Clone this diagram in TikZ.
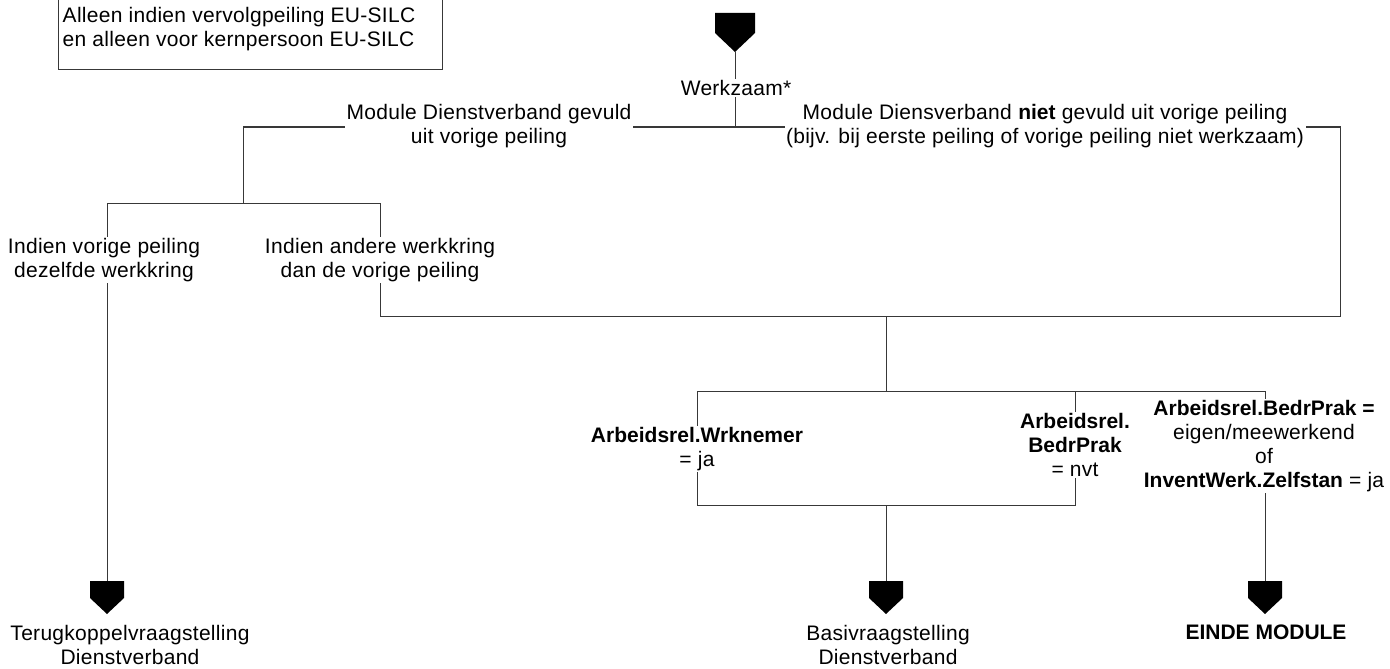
\documentclass[tikz,border=0pt]{standalone}
\usepackage{fontspec}
\setmainfont[LetterSpace=1.4,BoldFeatures={LetterSpace=0}]{Liberation Sans}
\usetikzlibrary{backgrounds}
\begin{document}
\begin{tikzpicture}[x=1bp,y=-1bp,
  txt/.style={font=\fontsize{21bp}{24bp}\selectfont, align=center, inner sep=1.5bp, fill=white},
  ln/.style={line width=1bp, draw=black!78},
  bigarrow/.pic={\fill (-20,0) -- (20,0) -- (20,20) -- (0,39) -- (-20,20) -- cycle;},
  smallarrow/.pic={\fill (-17,0) -- (17,0) -- (17,17) -- (0,33) -- (-17,17) -- cycle;}]
\useasboundingbox (0,0) rectangle (1390,669);
\clip (0,0) rectangle (1390,669);

% note box
\draw[ln] (58,-10) rectangle (442,70);
\node[txt, anchor=west, align=left] (note) at (61,29.5) {Alleen indien vervolgpeiling EU-SILC\\en alleen voor kernpersoon EU-SILC};

% start arrow
\pic at (735,13) {bigarrow};
\coordinate (starttip) at (735,52);

% text nodes
\node[txt] (werk) at (736,88) {Werkzaam*};
\node[txt] (labL) at (489,126.5) {Module Dienstverband gevuld\\uit vorige peiling};
\node[txt] (labR) at (1045,126.5) {Module Diensverband \textbf{niet} gevuld uit vorige peiling\\(bijv. bij eerste peiling of vorige peiling niet werkzaam)};
\node[txt] (same) at (104,260) {Indien vorige peiling\\dezelfde werkkring};
\node[txt] (other) at (380,260) {Indien andere werkkring\\dan de vorige peiling};
\node[txt] (wrk) at (697,449) {\textbf{Arbeidsrel.Wrknemer}\\= ja};
\node[txt] (nvt) at (1075,445) {\textbf{Arbeidsrel.}\\\textbf{BedrPrak}\\= nvt};
\node[txt] (zelf) at (1264,446) {\textbf{Arbeidsrel.BedrPrak =}\\eigen/meewerkend\\of\\\textbf{InventWerk.Zelfstan} = ja};

% end arrows
\pic at (107,581) {smallarrow};
\pic at (886,581) {smallarrow};
\pic at (1265,581) {smallarrow};
\coordinate (endA) at (107,582);
\coordinate (endB) at (886,582);
\coordinate (endC) at (1265,582);
\node[txt] (terug) at (130,645) {Terugkoppelvraagstelling\\Dienstverband};
\node[txt] (basis) at (888,645) {Basivraagstelling\\Dienstverband};
\node[txt, font=\fontsize{21bp}{24bp}\selectfont\bfseries] (einde) at (1266,632) {EINDE MODULE};

% junctions
\coordinate (jT) at (735,127);
\coordinate (jL) at (243,127);
\coordinate (jR) at (1340,127);
\coordinate (jL2) at (243,203);
\coordinate (jLa) at (107,203);
\coordinate (jLb) at (380,203);
\coordinate (jM) at (380,316);
\coordinate (jMR) at (1340,316);
\coordinate (jC) at (886,316);
\coordinate (jC2) at (886,391);
\coordinate (jA) at (697,391);
\coordinate (jB) at (1075,391);
\coordinate (jZ) at (1265,391);
\coordinate (jA2) at (697,505);
\coordinate (jB2) at (1075,505);
\coordinate (jD) at (886,505);

\begin{scope}[on background layer]
\draw[ln] (starttip) -- (jT);
\draw[ln] (jL) -- (jR) -- (jMR) -- (jM);
\draw[ln] (jL) -- (jL2);
\draw[ln] (jLa) -- (jLb);
\draw[ln] (jLa) -- (endA);
\draw[ln] (jLb) -- (jM);
\draw[ln] (jC) -- (jC2);
\draw[ln] (jA) -- (jZ);
\draw[ln] (jA) -- (jA2) -- (jB2) -- (jB);
\draw[ln] (jD) -- (endB);
\draw[ln] (jZ) -- (endC);
\end{scope}
\end{tikzpicture}
\end{document}
